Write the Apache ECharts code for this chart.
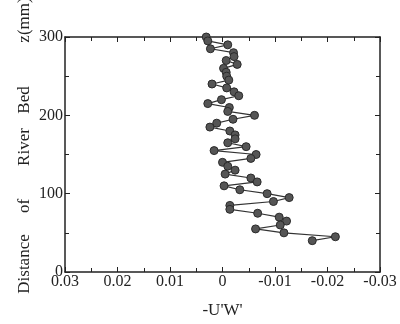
<!DOCTYPE html>
<html>
<head>
<meta charset="utf-8">
<script src="https://cdn.jsdelivr.net/npm/echarts@6/dist/echarts.min.js"></script>
<style>html,body{margin:0;padding:0;background:#fff;}#c{width:400px;height:324px;}</style>
</head>
<body>
<div id="c"></div>
<script>
var zValues = [300,295,290,285,280,275,270,265,260,255,250,245,240,235,230,225,220,215,210,205,200,195,190,185,180,175,170,165,160,155,150,145,140,135,130,125,120,115,110,105,100,95,90,85,80,75,70,65,60,55,50,45,40];
var uwValues = [0.0031,0.0028,-0.0010,0.0023,-0.0021,-0.0022,-0.0007,-0.0028,-0.0002,-0.0007,-0.0008,-0.0012,0.0020,-0.0008,-0.0022,-0.0031,0.0002,0.0028,-0.0013,-0.0010,-0.0061,-0.0020,0.0011,0.0024,-0.0014,-0.0024,-0.0024,-0.0010,-0.0045,0.0016,-0.0064,-0.0054,0.0000,-0.0010,-0.0024,-0.0005,-0.0054,-0.0066,-0.0003,-0.0033,-0.0085,-0.0127,-0.0097,-0.0014,-0.0014,-0.0067,-0.0108,-0.0122,-0.0110,-0.0063,-0.0117,-0.0215,-0.0171];
var xTickLabels = {'0.03':'0.03','0.02':'0.02','0.01':'0.01','0':'0','-0.01':'-0.01','-0.02':'-0.02','-0.03':'-0.03'};
var yWords = ['Distance','of','River','Bed','z(mm)'];
var xTitle = "-U'W'";

var font = 'Liberation Serif';
var ink = '#222';
var fs = 16;
var data = zValues.map(function(z, i){ return [uwValues[i], z]; });

function fmtX(v){ var s = String(parseFloat(v.toFixed(2))); if (s === '-0') s = '0'; return xTickLabels[s] !== undefined ? xTickLabels[s] : s; }

var tickCommon = {
  axisLine: {show: true, onZero: false, lineStyle: {color: ink, width: 1.5}},
  axisTick: {show: true, inside: true, length: 5, lineStyle: {color: ink, width: 1}},
  minorTick: {show: true, splitNumber: 2, length: 4, lineStyle: {color: ink, width: 1}},
  splitLine: {show: false},
  minorSplitLine: {show: false}
};
function ax(extra){ var o = JSON.parse(JSON.stringify(tickCommon)); for (var k in extra) o[k] = extra[k]; return o; }

var yPos = [264, 206, 147, 100, 20];
var graphics = yWords.map(function(w, i){
  return {type: 'text', x: 25, y: yPos[i], rotation: Math.PI/2,
    style: {text: w, font: '17px "' + font + '"', fill: ink, align: 'center', verticalAlign: 'middle'}};
});

var chart = echarts.init(document.getElementById('c'), null, {renderer: 'canvas'});
chart.setOption({
  animation: false,
  backgroundColor: '#fff',
  grid: {left: 65, right: 20, top: 37, bottom: 50},
  xAxis: [
    ax({type: 'value', min: -0.03, max: 0.03, interval: 0.01, inverse: true, position: 'bottom',
      name: xTitle, nameLocation: 'middle', nameGap: 30,
      nameTextStyle: {fontFamily: font, fontSize: 17, color: ink},
      axisLabel: {formatter: fmtX, fontFamily: font, fontSize: fs, color: ink, margin: 2}}),
    ax({type: 'value', min: -0.03, max: 0.03, interval: 0.01, inverse: true, position: 'top',
      axisLabel: {show: false}})
  ],
  yAxis: [
    ax({type: 'value', min: 0, max: 300, interval: 100, position: 'left',
      axisLabel: {fontFamily: font, fontSize: fs, color: ink, margin: 2}}),
    ax({type: 'value', min: 0, max: 300, interval: 100, position: 'right',
      axisLabel: {show: false}})
  ],
  graphic: graphics,
  series: [{
    type: 'line', data: data, xAxisIndex: 0, yAxisIndex: 0,
    symbol: 'circle', symbolSize: 8,
    lineStyle: {color: '#333', width: 1.2},
    itemStyle: {color: '#555', borderColor: '#2a2a2a', borderWidth: 1}
  }]
});
</script>
</body>
</html>
